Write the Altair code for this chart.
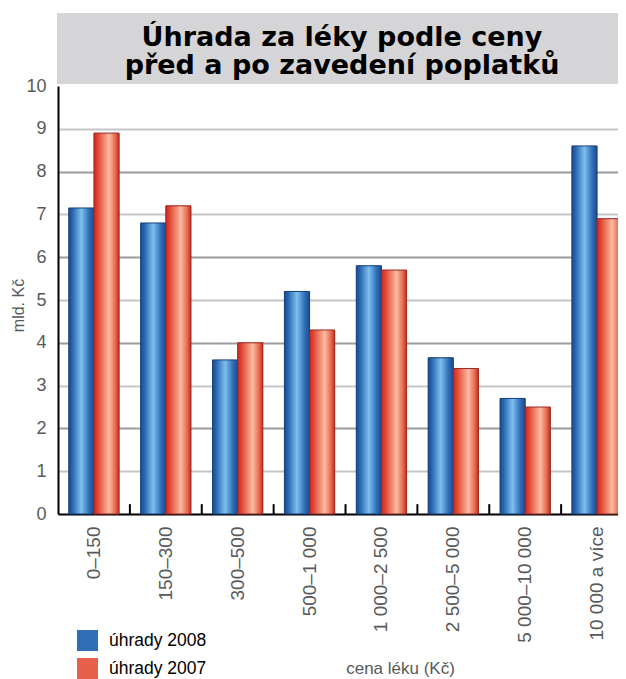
import altair as alt
import pandas as pd

# ---- data ----
categories = ["0–150", "150–300", "300–500", "500–1 000", "1 000–2 500",
              "2 500–5 000", "5 000–10 000", "10 000 a více"]
series_names = ["úhrady 2008", "úhrady 2007"]
values_2008 = [7.15, 6.8, 3.6, 5.2, 5.8, 3.65, 2.7, 8.6]
values_2007 = [8.9, 7.2, 4.0, 4.3, 5.7, 3.4, 2.5, 6.9]
y_ticks = list(range(0, 11))
title_lines = ["Úhrada za léky podle ceny", "před a po zavedení poplatků"]
x_title = "cena léku (Kč)"
y_title = "mld. Kč"

rows = []
for c, a, b in zip(categories, values_2008, values_2007):
    rows.append({"cat": c, "series": series_names[0], "value": a})
    rows.append({"cat": c, "series": series_names[1], "value": b})
df = pd.DataFrame(rows)
tick_df = pd.DataFrame({"cat": categories[:-1]})
one = pd.DataFrame({"k": [0]})

W, H = 560, 428
XR = 575  # band range runs past the right edge, as in the cropped original
FONT = "Liberation Sans"
GRAY = "#58595b"

x_scale = alt.Scale(domain=categories, range=[0, XR], paddingInner=0.3, paddingOuter=0.15)
xo_scale = alt.Scale(domain=series_names, paddingInner=0, paddingOuter=0)
y_scale = alt.Scale(domain=[0, 10], nice=False, zero=True)

x_axis = alt.Axis(
    title=x_title, labelAngle=-90, labelFontSize=19, labelColor=GRAY, labelFont=FONT,
    labelPadding=12, ticks=False, domainColor="black", domainWidth=2, grid=False,
    titleFont=FONT, titleFontSize=17, titleFontWeight="normal", titleColor=GRAY,
    titleX=342, titleY=159, titleAlign="center", titleBaseline="alphabetic",
)
y_axis = alt.Axis(
    title=y_title, values=y_ticks, labelFontSize=18, labelColor=GRAY, labelFont=FONT,
    labelPadding=12, ticks=False, domainColor="black", domainWidth=2, grid=True,
    gridColor={"condition": {"test": "datum.value % 2 === 0", "value": "#9b9b9e"},
               "value": "#c6c6c9"},
    gridOpacity={"condition": {"test": "datum.value === 10 || datum.value === 0", "value": 0},
                 "value": 1},
    gridWidth=2,
    titleFont=FONT, titleFontSize=16, titleFontWeight="normal", titleColor=GRAY,
    titleX=-40, titleY=219, titleAngle=-90, titleAlign="center", titleBaseline="middle",
)

X = alt.X("cat:N", sort=categories, scale=x_scale, axis=x_axis)
XO = alt.XOffset("series:N", sort=series_names, scale=xo_scale)
Y = alt.Y("value:Q", scale=y_scale, axis=y_axis)

# title box
box = alt.Chart(one).mark_rect(color="#d5d5d7").encode(
    x=alt.value(-1), x2=alt.value(W + 20), y=alt.value(-73), y2=alt.value(-2)
)
title = alt.Chart(one).mark_text(
    text=title_lines, font="DejaVu Sans", fontSize=27, fontWeight="bold", color="black",
    align="center", baseline="alphabetic", lineHeight=27.5,
).encode(x=alt.value(284), y=alt.value(-40))

legend_bars = alt.Chart(df).mark_bar().encode(
    x=X, xOffset=XO, y=Y,
    color=alt.Color(
        "series:N", sort=series_names,
        scale=alt.Scale(domain=series_names, range=["#2f6fb8", "#e8604b"]),
        legend=alt.Legend(
            title=None, orient="none", legendX=19, legendY=544, direction="vertical",
            symbolType="square", symbolSize=441, symbolStrokeWidth=0,
            labelFont=FONT, labelFontSize=17.5, labelColor="black", labelOffset=11,
            rowPadding=7, padding=0, labelBaseline="middle",
        ),
    ),
)

blue_grad = alt.Gradient(
    gradient="linear", x1=0, x2=1, y1=0, y2=0,
    stops=[alt.GradientStop(offset=0, color="#1a4a90"),
           alt.GradientStop(offset=0.15, color="#2a66b0"),
           alt.GradientStop(offset=0.5, color="#7cc0ee"),
           alt.GradientStop(offset=0.8, color="#3270b8"),
           alt.GradientStop(offset=1, color="#1a4a90")],
)
red_grad = alt.Gradient(
    gradient="linear", x1=0, x2=1, y1=0, y2=0,
    stops=[alt.GradientStop(offset=0, color="#cf241d"),
           alt.GradientStop(offset=0.2, color="#e5523c"),
           alt.GradientStop(offset=0.6, color="#f9bba2"),
           alt.GradientStop(offset=0.85, color="#e76a50"),
           alt.GradientStop(offset=1, color="#c8281f")],
)

bars08 = alt.Chart(df).mark_bar(fill=blue_grad, stroke="#173f78", strokeWidth=1).encode(
    x=X, xOffset=XO, y=Y
).transform_filter(alt.datum.series == series_names[0])
bars07 = alt.Chart(df).mark_bar(fill=red_grad, stroke="#9a2a22", strokeWidth=1).encode(
    x=X, xOffset=XO, y=Y
).transform_filter(alt.datum.series == series_names[1])

ticks = alt.Chart(tick_df).mark_rule(color="black", strokeWidth=2, xOffset=10.8).encode(
    x=alt.X("cat:N", sort=categories, scale=x_scale, axis=x_axis, bandPosition=1),
    y=alt.YDatum(0, scale=y_scale, axis=y_axis),
    y2=alt.datum(0.23),
)

chart = alt.layer(box, legend_bars, bars08, bars07, ticks, title).properties(
    width=W, height=H,
    autosize=alt.AutoSizeParams(type="none"),
    padding={"left": 50, "top": 78, "right": 0, "bottom": 165},
    background="white",
).configure_view(stroke=None)

chart.save("out.html", embed_options={"renderer": "svg", "actions": False})
